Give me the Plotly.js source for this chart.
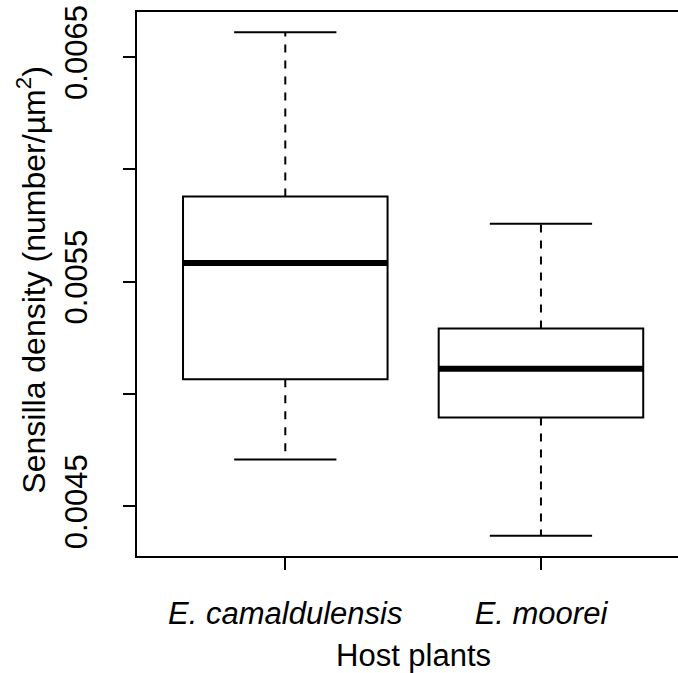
<!DOCTYPE html>
<html>
<head>
<meta charset="utf-8">
<script src="https://cdn.plot.ly/plotly-3.0.1.min.js"></script>
<style>
  html, body { margin: 0; padding: 0; background: #ffffff; }
  #chart { width: 678px; height: 673px; }
</style>
</head>
<body>
<div id="chart"></div>
<script>
// Host plant groups and their five-number summaries (sensilla per µm²)
const hosts = ["E. camaldulensis", "E. moorei"];
const positions = [1, 2];
const lowerWhisker = [0.004709, 0.004369];
const q1 = [0.005066, 0.004896];
const median = [0.005584, 0.005113];
const q3 = [0.005880, 0.005292];
const upperWhisker = [0.006611, 0.005758];

// y-axis ticks: labelled majors, unlabelled minors in between
const yTickVals = [0.0045, 0.0055, 0.0065];
const yTickText = ["0.0045", "0.0055", "0.0065"];
const yMinorVals = [0.0050, 0.0060];

const FONT = '"Liberation Sans", Arial, Helvetica, sans-serif';
const FS = 31;
const BOX_W = 0.8;   // box width in axis units
const CAP_W = 0.4;   // whisker cap width in axis units

const traces = [];

// dashed whisker stems
positions.forEach((p, i) => {
  traces.push({
    type: 'scatter', mode: 'lines', hoverinfo: 'skip', showlegend: false,
    x: [p, p], y: [q3[i], upperWhisker[i]],
    line: { color: '#000', width: 2, dash: '8px,8px' }
  });
  traces.push({
    type: 'scatter', mode: 'lines', hoverinfo: 'skip', showlegend: false,
    x: [p, p], y: [q1[i], lowerWhisker[i]],
    line: { color: '#000', width: 2, dash: '8px,8px' }
  });
});

// boxes (quartiles only; whiskers drawn separately)
traces.push({
  type: 'box', x: positions, q1: q1, median: median, q3: q3,
  lowerfence: q1, upperfence: q3,
  width: BOX_W, whiskerwidth: 0,
  fillcolor: '#ffffff', line: { color: '#000', width: 2 },
  hoverinfo: 'skip', showlegend: false
});

// heavy median bars and solid whisker caps
positions.forEach((p, i) => {
  traces.push({
    type: 'scatter', mode: 'lines', hoverinfo: 'skip', showlegend: false,
    x: [p - BOX_W / 2, p + BOX_W / 2], y: [median[i], median[i]],
    line: { color: '#000', width: 6 }
  });
  [upperWhisker[i], lowerWhisker[i]].forEach(v => {
    traces.push({
      type: 'scatter', mode: 'lines', hoverinfo: 'skip', showlegend: false,
      x: [p - CAP_W / 2, p + CAP_W / 2], y: [v, v],
      line: { color: '#000', width: 2 }
    });
  });
});

const layout = {
  width: 678, height: 673,
  margin: { l: 137, r: 0, t: 12, b: 117, pad: 0 },
  paper_bgcolor: '#ffffff', plot_bgcolor: '#ffffff',
  font: { family: FONT, size: FS, color: '#000' },
  showlegend: false,
  xaxis: {
    range: [0.42, 2.536], fixedrange: true,
    tickmode: 'array', tickvals: positions,
    ticktext: hosts.map(h => '<i>' + h + '</i>'),
    ticks: 'outside', ticklen: 12, tickwidth: 2, tickcolor: '#000',
    ticklabelstandoff: 17,
    showline: true, linewidth: 2, linecolor: '#000', mirror: true,
    showgrid: false, zeroline: false,
    tickfont: { family: FONT, size: FS, color: '#000' }
  },
  yaxis: {
    range: [0.004279, 0.006701], fixedrange: true,
    tickmode: 'array', tickvals: yTickVals, ticktext: yTickText,
    tickangle: -90,
    ticks: 'outside', ticklen: 12, tickwidth: 2, tickcolor: '#000',
    ticklabelstandoff: 24,
    minor: {
      tickmode: 'array', tickvals: yMinorVals,
      ticks: 'outside', ticklen: 12, tickwidth: 2, tickcolor: '#000',
      showgrid: false
    },
    showline: true, linewidth: 2, linecolor: '#000', mirror: false,
    showgrid: false, zeroline: false,
    tickfont: { family: FONT, size: FS, color: '#000' }
  },
  annotations: [
    {
      text: 'Host plants', xref: 'x', yref: 'paper',
      x: 1.5, y: 0, yshift: -80, xanchor: 'center', yanchor: 'top',
      showarrow: false, font: { family: FONT, size: FS, color: '#000' }
    },
    {
      text: 'Sensilla density (number/µm<sup>2</sup>)', xref: 'paper', yref: 'y',
      x: 0, y: 0.005505, xshift: -84, xanchor: 'right', yanchor: 'middle',
      textangle: -90, showarrow: false,
      font: { family: FONT, size: 32, color: '#000' }
    }
  ]
};

Plotly.newPlot('chart', traces, layout, { staticPlot: true, displayModeBar: false });
</script>
</body>
</html>
